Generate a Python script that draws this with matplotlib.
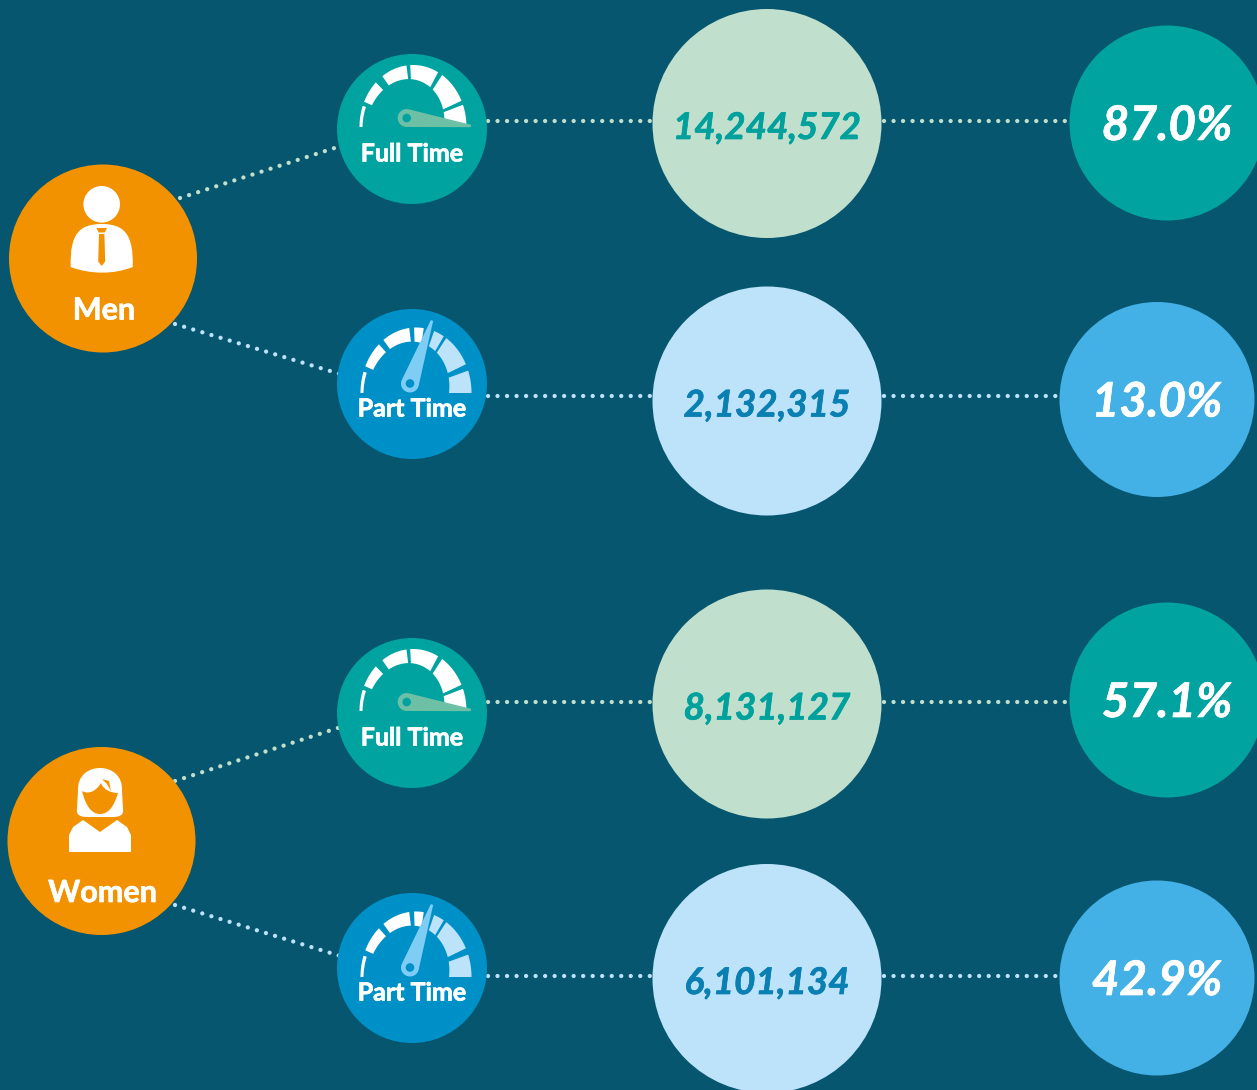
import numpy as np
import matplotlib
matplotlib.use('Agg')
import matplotlib.pyplot as plt
import matplotlib.patheffects as pe
from matplotlib.patches import Circle, Polygon, PathPatch
from matplotlib.path import Path

# Values
groups = ['Men', 'Women']
work_types = ['Full Time', 'Part Time']
counts = [14244572, 2132315, 8131127, 6101134]
shares = [87.0, 13.0, 57.1, 42.9]

BG = '#07566f'
ORANGE = '#f39200'
TEAL = '#00a3a0'
BLUE = '#0090c8'
PALE_GREEN = '#c0dfcd'
PALE_BLUE = '#bde3fb'
SKY = '#43b0e6'
FONT = 'Lato'

fig = plt.figure(figsize=(12.57, 10.9), dpi=100, facecolor=BG)
ax = fig.add_axes([0, 0, 1, 1])
ax.set_xlim(0, 1257)
ax.set_ylim(1090, 0)
ax.set_aspect('equal')
ax.axis('off')


def dotted(x0, y0, x1, y1, color):
    ax.plot([x0, x1], [y0, y1], color=color, lw=3.1, zorder=1,
            linestyle=(0, (0.01, 2.2)), dash_capstyle='round')


def disc(x, y, r, color, z=2):
    ax.add_patch(Circle((x, y), r, facecolor=color, edgecolor='none', zorder=z))


def label(x, y, s, color, size, italic=False, extra=0.5):
    ax.text(x, y, s, color=color, fontsize=size, family=FONT, weight='bold',
            style='italic' if italic else 'normal', ha='center', va='center', zorder=6,
            path_effects=[pe.withStroke(linewidth=extra, foreground=color)])


def gauge(cx, cy, rx, ry, hub, tip, needle, segments):
    # segments get thicker from left to right
    for a0, a1, color in segments:
        deg = np.linspace(a0, a1, 30)
        t = np.radians(deg)
        th = np.interp(deg, [0, 45, 105, 157, 158, 180], [22.5, 18.5, 13, 8.5, 3.5, 3])
        outer = np.c_[cx + rx * np.cos(t), cy - ry * np.sin(t)]
        inner = np.c_[cx + (rx - th) * np.cos(t), cy - (ry - th) * np.sin(t)]
        ax.add_patch(Polygon(np.r_[outer, inner[::-1]], facecolor=color,
                             edgecolor='none', zorder=3))
    hub = np.array(hub)
    tip = np.array(tip)
    d = (tip - hub) / np.hypot(*(tip - hub))
    n = np.array([-d[1], d[0]])
    ang = np.linspace(0, np.pi, 20)
    arc = [hub + 9 * (np.cos(a) * n - np.sin(a) * d) for a in ang]
    ax.add_patch(Polygon(np.array(arc + [tip - n * 1.2, tip + n * 1.2]),
                         facecolor=needle, edgecolor='none', zorder=4))
    return hub


def man(cx, cy):
    x = cx - 1.3
    disc(x, cy - 54.2, 18.3, 'white', 3)
    verts = [(x - 31, cy + 8.5), (x - 32, cy - 25), (x - 22, cy - 34.5), (x, cy - 34.5),
             (x + 22, cy - 34.5), (x + 32, cy - 25), (x + 31, cy + 8.5),
             (x + 12, cy + 16), (x - 11, cy + 16), (x - 31, cy + 8.5)]
    codes = [Path.MOVETO] + [Path.CURVE4] * 9
    ax.add_patch(PathPatch(Path(verts, codes), facecolor='white', edgecolor='none', zorder=3))
    knot = [(x - 5.3, cy - 30.5), (x + 5.3, cy - 30.5), (x + 3, cy - 26), (x - 3, cy - 26)]
    blade = [(x - 2.7, cy - 24.5), (x + 2.7, cy - 24.5), (x + 3.5, cy + 3), (x, cy + 7.5),
             (x - 3.5, cy + 3)]
    ax.add_patch(Polygon(knot, facecolor=ORANGE, edgecolor='none', zorder=4))
    ax.add_patch(Polygon(blade, facecolor=ORANGE, edgecolor='none', zorder=4))


def woman(cx, cy):
    x = cx - 1.5
    c = Path.CURVE4
    hair = [(x - 23, cy - 32), (x - 24, cy - 26), (x - 20, cy - 24), (x - 12, cy - 24),
            (x + 12, cy - 24), (x + 20, cy - 24), (x + 24, cy - 26), (x + 23, cy - 32),
            (x + 22, cy - 50), (x + 23, cy - 65), (x + 12, cy - 73), (x, cy - 73),
            (x - 12, cy - 73), (x - 23, cy - 65), (x - 22, cy - 50), (x - 23, cy - 32)]
    hair_codes = [Path.MOVETO, c, c, c, Path.LINETO, c, c, c, Path.LINETO, c, c, c, c, c, c, Path.LINETO]
    ax.add_patch(PathPatch(Path(hair, hair_codes), facecolor='white', edgecolor='none', zorder=3))
    face = [(x - 18, cy - 50), (x - 13, cy - 47), (x - 5, cy - 48), (x + 1, cy - 58),
            (x + 3, cy - 52), (x + 10, cy - 48), (x + 18, cy - 48),
            (x + 14, cy - 34), (x + 8, cy - 27), (x, cy - 27),
            (x - 8, cy - 27), (x - 14, cy - 34), (x - 18, cy - 50)]
    ax.add_patch(PathPatch(Path(face, [Path.MOVETO] + [c] * 12),
                           facecolor=ORANGE, edgecolor='none', zorder=4))
    sliver = [(x + 2, cy - 62), (x + 9, cy - 60), (x + 11, cy - 50), (x + 7, cy - 57)]
    ax.add_patch(Polygon(sliver, facecolor=ORANGE, edgecolor='none', zorder=4))
    body = [(x - 31, cy + 11), (x - 31, cy - 6), (x - 27, cy - 14), (x - 17, cy - 21),
            (x, cy - 9), (x + 17, cy - 21), (x + 27, cy - 14), (x + 31, cy - 6), (x + 31, cy + 11)]
    ax.add_patch(Polygon(body, facecolor='white', edgecolor='none', zorder=3))


# layout of the four rows
gauge_y = [129, 384, 713, 968]
mid_y = [123.5, 401, 704, 978.5]
right_x = [1167, 1157, 1167, 1157]
right_y = [123, 399.5, 700, 978]
line_y = [121, 396, 702, 976]
label_y = [154, 409, 738, 993]
person_xy = [(103, 258.5), (101.5, 841)]
link_ends = [[(180, 198, 350, 143), (175, 324, 350, 377)],
             [(175, 781, 350, 724), (175, 905, 350, 959)]]

for i in range(4):
    full = i % 2 == 0
    main = TEAL if full else BLUE
    pale = PALE_GREEN if full else PALE_BLUE
    bright = TEAL if full else SKY
    num_color = '#00a19c' if full else '#0a7fb2'

    dotted(488, line_y[i], 660, line_y[i], pale)
    dotted(884, line_y[i], right_x[i] - 90, line_y[i], pale)
    x0, y0, x1, y1 = link_ends[i // 2][i % 2]
    dotted(x0, y0, x1, y1, pale)

    disc(412, gauge_y[i], 75, main)
    disc(767, mid_y[i], 114.5, pale)
    disc(right_x[i], right_y[i], 97.5, bright)

    if full:
        cy = gauge_y[i] - 2
        segs = [(180, 160, 'white'), (156, 134, 'white'), (125, 97, 'white'),
                (93, 62, 'white'), (57, 25, 'white'), (21, 0, 'white')]
        hub = gauge(413, cy, 53.5, 62, (406.7, gauge_y[i] - 11), (471, gauge_y[i] - 3),
                    '#6dbfa5', segs)
    else:
        cy = gauge_y[i] + 9
        segs = [(180, 161, 'white'), (156, 132, 'white'), (126, 97, 'white'),
                (92, 82, 'white'), (71, 60, PALE_BLUE), (57, 26, PALE_BLUE), (20, 0, PALE_BLUE)]
        hub = gauge(416, cy, 55.5, 65.5, (410, gauge_y[i] - 0.5), (432, gauge_y[i] - 63.5),
                    '#7fcdf5', segs)
    disc(hub[0], hub[1], 4.3, main, 5)

    label(412, label_y[i], work_types[i % 2], 'white', 18)
    label(767, mid_y[i] + 5, f'{counts[i]:,}', num_color, 26.5, italic=True)
    label(right_x[i], right_y[i] + 3, f'{shares[i]:.1f}%', 'white', 34.3, italic=True)

for (x, y), name in zip(person_xy, groups):
    disc(x, y, 94, ORANGE)
    label(x + 1, y + 52, name, 'white', 22)

man(*person_xy[0])
woman(*person_xy[1])

fig.savefig('out.png', dpi=100, facecolor=BG)
